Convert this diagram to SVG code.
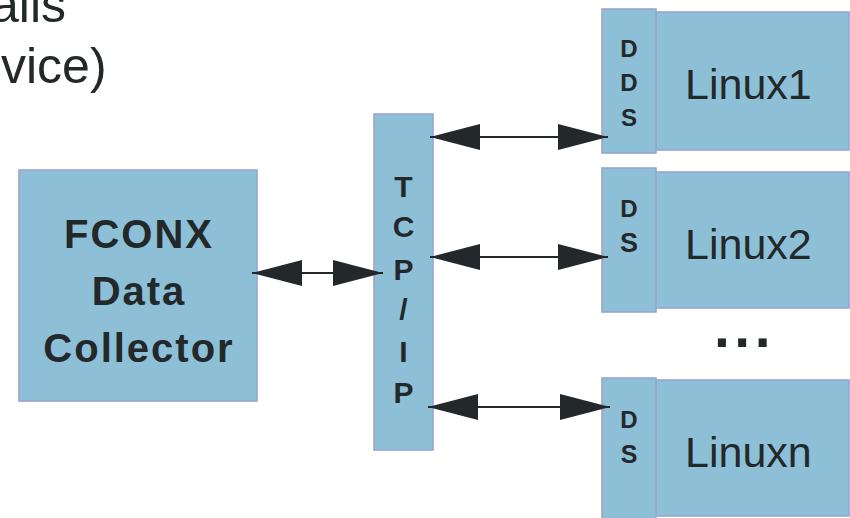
<svg xmlns="http://www.w3.org/2000/svg" width="850" height="518" viewBox="0 0 850 518">
<style>
.box{fill:#8dbfd7;stroke:#98a6d2;stroke-width:1.6}
.t{font-family:"Liberation Sans",Arial,sans-serif;fill:#23282b}
.b{font-weight:bold}
.big{font-size:40px;font-weight:bold;letter-spacing:2px;text-anchor:middle}
.tcp{font-size:30px;font-weight:bold;text-anchor:middle}
.dds{font-size:24px;text-anchor:middle}
.lx{font-size:43px}
.conn{stroke:#23282b;stroke-width:2;fill:none;marker-start:url(#ah);marker-end:url(#ah)}
</style>
<defs>
<marker id="ah" markerUnits="userSpaceOnUse" markerWidth="50" markerHeight="26" refX="50" refY="13" orient="auto-start-reverse" viewBox="0 0 50 26">
<path d="M0,0 L50,13 L0,26 z" fill="#23282b"/>
</marker>
</defs>
<g id="heading">
<text class="t" x="-9" y="22" font-size="50">ails</text>
<text class="t" x="1" y="83" font-size="50">vice)</text>
</g>
<g id="fconx">
<rect class="box" x="19" y="170" width="238" height="231"/>
<text class="t big" x="139" y="248">FCONX</text>
<text class="t big" x="139" y="305">Data</text>
<text class="t big" x="139" y="362">Collector</text>
</g>
<g id="tcpip">
<rect class="box" x="374" y="114" width="59" height="336"/>
<text class="t tcp" x="403.5" y="197">T</text>
<text class="t tcp" x="403.5" y="237">C</text>
<text class="t tcp" x="403.5" y="280">P</text>
<text class="t tcp" x="403.5" y="320">/</text>
<text class="t tcp" x="403.5" y="362">I</text>
<text class="t tcp" x="403.5" y="403">P</text>
</g>
<g id="linux1">
<rect class="box" x="656" y="12" width="193" height="138"/>
<rect class="box" x="602" y="9" width="54" height="144"/>
<text class="t dds b" x="629" y="57">D</text>
<text class="t dds b" x="629" y="91">D</text>
<text class="t dds b" x="629" y="126">S</text>
<text class="t lx" x="685" y="99">Linux1</text>
</g>
<g id="linux2">
<rect class="box" x="656" y="172" width="193" height="136"/>
<rect class="box" x="602" y="168" width="54" height="144"/>
<text class="t dds b" x="629" y="217">D</text>
<text class="t dds b" x="629" y="252" style="font-size:27px">S</text>
<text class="t lx" x="685" y="259">Linux2</text>
</g>
<g id="ellipsis">
<text class="t b" x="714" y="347" font-size="57" letter-spacing="4.5">...</text>
</g>
<g id="linuxn">
<rect class="box" x="656" y="380" width="193" height="136"/>
<rect class="box" x="602" y="378" width="54" height="150"/>
<text class="t dds b" x="629" y="428">D</text>
<text class="t dds b" x="629" y="463" style="font-size:25px">S</text>
<text class="t lx" x="685" y="467">Linuxn</text>
</g>
<g id="connectors">
<line class="conn" x1="252" y1="273" x2="383" y2="273"/>
<line class="conn" x1="430" y1="137" x2="608" y2="137"/>
<line class="conn" x1="430" y1="257" x2="608" y2="257"/>
<line class="conn" x1="428" y1="407" x2="610" y2="407"/>
</g>
</svg>
